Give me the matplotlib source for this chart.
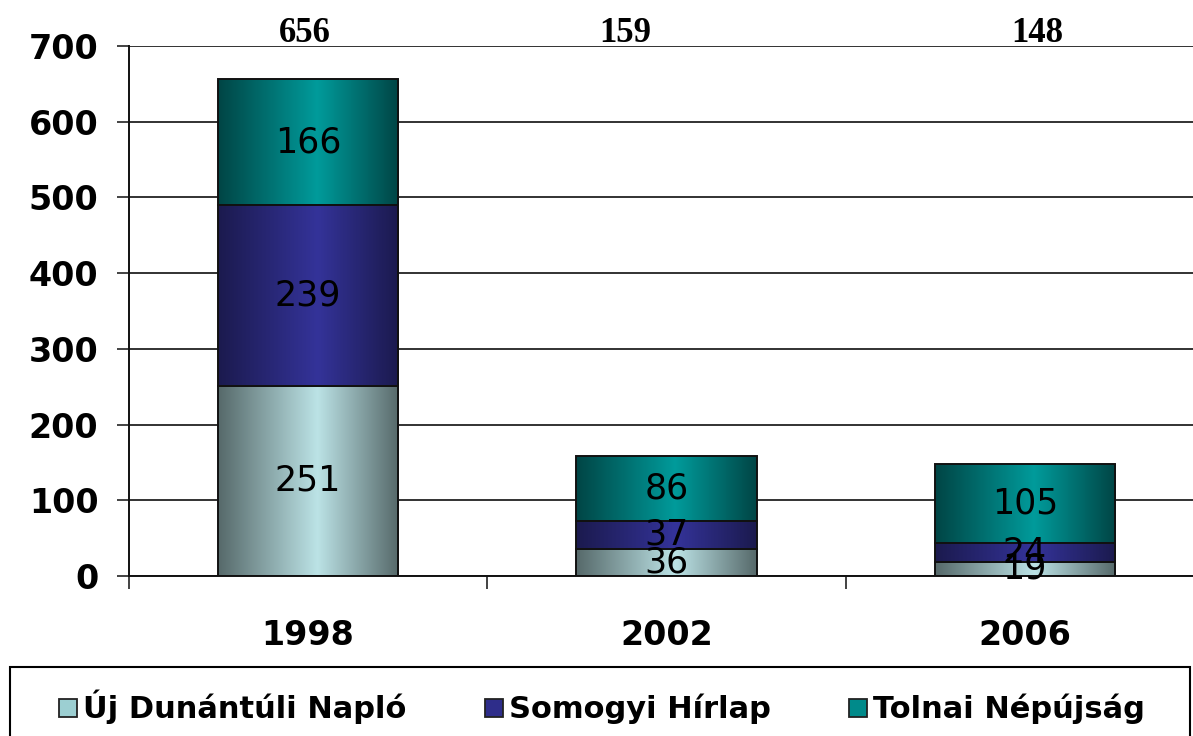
import numpy as np
import matplotlib
matplotlib.use("Agg")
import matplotlib.pyplot as plt
from matplotlib.colors import LinearSegmentedColormap
from matplotlib.patches import Rectangle
from matplotlib.lines import Line2D

categories = ["1998", "2002", "2006"]
series_names = ["Új Dunántúli Napló", "Somogyi Hírlap", "Tolnai Népújság"]
uj_dunantuli = [251, 36, 19]
somogyi = [239, 37, 24]
tolnai = [166, 86, 105]
totals = [656, 159, 148]
total_x_offsets = [-0.01, -0.115, 0.035]

series_values = [uj_dunantuli, somogyi, tolnai]
edge_colors = ["#56696a", "#1b1a4e", "#004545"]
center_colors = ["#bce3e6", "#343399", "#009b9b"]
legend_colors = ["#9ccfd2", "#2e2d8a", "#008a8a"]

W, H = 1193, 736
fig = plt.figure(figsize=(W / 100, H / 100), dpi=100)
ax = fig.add_axes([129 / W, 160 / H, (1204 - 129) / W, (690 - 160) / H])

x = np.arange(len(categories))
bottoms = np.zeros(len(categories))
grad = np.linspace(0, 1, 256)
for vals, ec, cc in zip(series_values, edge_colors, center_colors):
    bars = ax.bar(x, vals, width=0.503, bottom=bottoms, facecolor="none",
                  edgecolor="#111111", linewidth=1.4, zorder=3)
    cmap = LinearSegmentedColormap.from_list("g", [(0, ec), (0.55, cc), (1, ec)])
    for b in bars:
        bx, by, bw, bh = b.get_x(), b.get_y(), b.get_width(), b.get_height()
        im = ax.imshow(grad[np.newaxis, :], cmap=cmap, aspect="auto",
                       extent=[bx, bx + bw, by, by + bh], zorder=2,
                       interpolation="bilinear")
        im.set_clip_path(b)
    for xi, v, b0 in zip(x, vals, bottoms):
        ax.text(xi, b0 + v / 2, str(v), ha="center", va="center",
                fontsize=25, color="black", zorder=5, family="DejaVu Sans")
    bottoms = bottoms + np.array(vals)

for xi, t, off in zip(x, totals, total_x_offsets):
    ax.annotate(str(t), xy=(xi + off, 1.0), xycoords=("data", "axes fraction"),
                xytext=(0, 9), textcoords="offset points", ha="center",
                va="center", fontsize=25, fontweight="bold",
                family="Liberation Serif", annotation_clip=False)

ax.set_xlim(-0.5, 2.5)
ax.set_ylim(0, 700)
ax.set_yticks(np.arange(0, 701, 100))
ax.yaxis.grid(True, color="#222222", linewidth=1.3, zorder=0)
ax.set_axisbelow(True)
ax.set_xticks(x)
ax.set_xticklabels(categories)
ax.set_xticks([-0.5, 0.5, 1.5, 2.5], minor=True)
ax.tick_params(axis="x", which="major", length=0, pad=31)
ax.tick_params(axis="x", which="minor", length=9, width=1.2, direction="out", color="#222222")
ax.tick_params(axis="y", length=9, width=1.2, direction="out", pad=13, color="#222222")
for lab in ax.get_xticklabels() + ax.get_yticklabels():
    lab.set_fontsize(24)
    lab.set_fontweight("bold")
    lab.set_family("DejaVu Sans")

for s in ["top", "right"]:
    ax.spines[s].set_visible(False)
ax.spines["left"].set_linewidth(1.4)
ax.spines["bottom"].set_linewidth(1.4)
ax.spines["left"].set_color("#111111")
ax.spines["bottom"].set_color("#111111")

# legend
handles = [Line2D([], [], marker="s", linestyle="none", markersize=13,
                  markerfacecolor=c, markeredgecolor="#222222", markeredgewidth=1.3)
           for c in legend_colors]
leg = fig.legend(handles, series_names, loc="center", ncol=3,
                 bbox_to_anchor=(601 / W, 1 - 707 / H), frameon=False,
                 prop={"family": "DejaVu Sans", "weight": "bold", "size": 22},
                 handletextpad=0.15, columnspacing=2.5, handlelength=0.7)
fig.add_artist(Rectangle((10 / W, -0.02), (1190 - 10) / W, 0.02 + (736 - 667) / H,
                         transform=fig.transFigure, fill=False,
                         edgecolor="black", linewidth=1.5, clip_on=False))

fig.savefig("out.png", dpi=100)
